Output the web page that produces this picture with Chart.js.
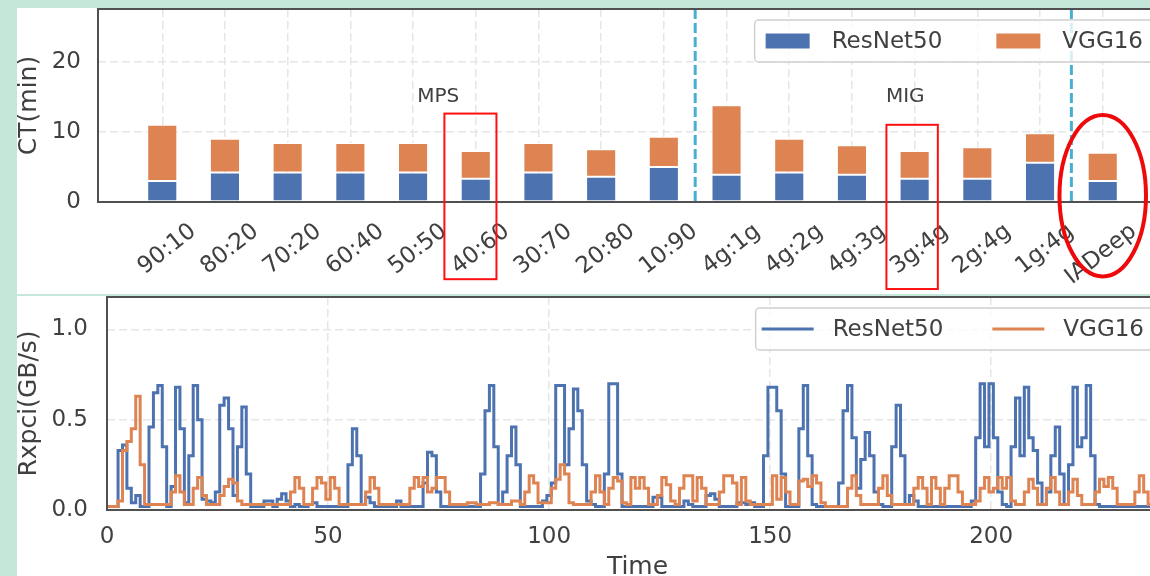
<!DOCTYPE html>
<html>
<head>
<meta charset="utf-8">
<script src="https://cdn.jsdelivr.net/npm/chart.js@4.4.0/dist/chart.umd.min.js"></script>
<style>
    html, body { margin: 0; padding: 0; width: 1150px; height: 576px; overflow: hidden; background: #c4e7da; }
    .panel { position: absolute; left: 17px; width: 1180px; background: #ffffff; }
    #topPanel { top: 8px; height: 286px; }
    #bottomPanel { top: 296px; height: 300px; }
    canvas { display: block; }
</style>
</head>
<body>
<div class="panel" id="topPanel"><canvas id="ctChart" width="1180" height="286"></canvas></div>
<div class="panel" id="bottomPanel"><canvas id="rxChart" width="1180" height="300"></canvas></div>
<script>
// completion time per co-location setting (minutes)
var categories = ['90:10', '80:20', '70:20', '60:40', '50:50', '40:60', '30:70', '20:80', '10:90',
    '4g:1g', '4g:2g', '4g:3g', '3g:4g', '2g:4g', '1g:4g', 'IADeep'];
var resnetCT = [3.0, 4.2, 4.2, 4.2, 4.2, 3.3, 4.2, 3.6, 5.0, 3.9, 4.2, 3.9, 3.3, 3.3, 5.6, 3.0];
var vggCT = [8.0, 4.8, 4.2, 4.2, 4.2, 3.95, 4.2, 3.9, 4.3, 9.9, 4.8, 4.2, 3.95, 4.5, 4.2, 4.0];

// group separators and group names on the bar chart
var splitAt = [8.5, 14.5];
var groupNotes = [{ text: 'MPS', x: 4.4, y: 15 }, { text: 'MIG', x: 11.85, y: 15 }];
var highlightBoxes = [
    { from: 4.5, to: 5.33, top: 12.6, bottom: -11 },
    { from: 11.55, to: 12.37, top: 11.0, bottom: -12.4 }
];
var highlightRing = { x: 15, y: 0.9, rx: 0.69, ry: 11.5 };

// PCIe receive throughput (GB/s), one sample per time step
var rxResNet = [
    0.02, 0.02, 0.02, 0.33, 0.36, 0.12, 0.04, 0.08, 0.02, 0.02,
    0.46, 0.65, 0.69, 0.35, 0.02, 0.13, 0.68, 0.45, 0.04, 0.30,
    0.69, 0.50, 0.06, 0.05, 0.04, 0.10, 0.58, 0.62, 0.45, 0.08,
    0.35, 0.57, 0.20, 0.02, 0.02, 0.02, 0.05, 0.05, 0.02, 0.06,
    0.09, 0.05, 0.02, 0.03, 0.02, 0.02, 0.03, 0.04, 0.02, 0.02,
    0.02, 0.02, 0.02, 0.02, 0.02, 0.25, 0.45, 0.30, 0.03, 0.07,
    0.04, 0.02, 0.02, 0.02, 0.02, 0.02, 0.05, 0.02, 0.02, 0.02,
    0.02, 0.02, 0.15, 0.32, 0.30, 0.10, 0.02, 0.02, 0.02, 0.02,
    0.02, 0.02, 0.02, 0.02, 0.02, 0.20, 0.55, 0.69, 0.35, 0.03,
    0.10, 0.30, 0.46, 0.25, 0.02, 0.02, 0.02, 0.02, 0.02, 0.05,
    0.08, 0.15, 0.69, 0.69, 0.25, 0.45, 0.67, 0.55, 0.25, 0.05,
    0.03, 0.02, 0.02, 0.20, 0.70, 0.70, 0.20, 0.02, 0.02, 0.02,
    0.02, 0.02, 0.02, 0.02, 0.07, 0.07, 0.02, 0.02, 0.02, 0.02,
    0.02, 0.05, 0.03, 0.02, 0.02, 0.02, 0.08, 0.09, 0.06, 0.02,
    0.02, 0.02, 0.02, 0.04, 0.04, 0.03, 0.04, 0.02, 0.02, 0.30,
    0.68, 0.68, 0.55, 0.20, 0.02, 0.02, 0.02, 0.45, 0.69, 0.30,
    0.03, 0.02, 0.02, 0.02, 0.02, 0.02, 0.15, 0.55, 0.69, 0.40,
    0.12, 0.28, 0.43, 0.30, 0.10, 0.03, 0.02, 0.02, 0.35, 0.58,
    0.30, 0.03, 0.08, 0.05, 0.02, 0.02, 0.02, 0.02, 0.02, 0.02,
    0.02, 0.02, 0.02, 0.02, 0.02, 0.02, 0.05, 0.40, 0.70, 0.35,
    0.70, 0.40, 0.10, 0.03, 0.02, 0.35, 0.62, 0.30, 0.68, 0.40,
    0.33, 0.15, 0.03, 0.10, 0.30, 0.46, 0.20, 0.03, 0.25, 0.68,
    0.35, 0.40, 0.69, 0.30, 0.03, 0.02, 0.02, 0.02, 0.02, 0.02,
    0.02, 0.02, 0.02, 0.02, 0.02, 0.02, 0.02, 0.02, 0.02, 0.02,
    0.02
];
var rxVGG = [
    0.02, 0.02, 0.02, 0.05, 0.33, 0.38, 0.45, 0.63, 0.25, 0.03,
    0.03, 0.03, 0.03, 0.03, 0.03, 0.10, 0.19, 0.10, 0.03, 0.03,
    0.12, 0.18, 0.08, 0.03, 0.03, 0.03, 0.08, 0.13, 0.17, 0.15,
    0.05, 0.03, 0.03, 0.03, 0.03, 0.03, 0.03, 0.03, 0.03, 0.03,
    0.03, 0.03, 0.10, 0.18, 0.12, 0.03, 0.03, 0.12, 0.18, 0.15,
    0.06, 0.18, 0.12, 0.03, 0.03, 0.03, 0.03, 0.03, 0.03, 0.10,
    0.18, 0.12, 0.03, 0.03, 0.03, 0.03, 0.03, 0.03, 0.03, 0.12,
    0.18, 0.13, 0.18, 0.10, 0.12, 0.18, 0.18, 0.10, 0.03, 0.03,
    0.03, 0.03, 0.04, 0.04, 0.03, 0.03, 0.03, 0.04, 0.04, 0.03,
    0.03, 0.03, 0.05, 0.05, 0.03, 0.10, 0.19, 0.15, 0.04, 0.04,
    0.04, 0.12, 0.17, 0.25, 0.20, 0.04, 0.03, 0.03, 0.03, 0.03,
    0.10, 0.19, 0.10, 0.03, 0.12, 0.18, 0.16, 0.04, 0.03, 0.18,
    0.12, 0.18, 0.12, 0.03, 0.03, 0.08, 0.18, 0.14, 0.05, 0.03,
    0.12, 0.19, 0.19, 0.05, 0.18, 0.12, 0.03, 0.03, 0.03, 0.10,
    0.19, 0.19, 0.15, 0.03, 0.18, 0.05, 0.03, 0.03, 0.03, 0.03,
    0.03, 0.19, 0.06, 0.18, 0.10, 0.03, 0.03, 0.16, 0.17, 0.13,
    0.19, 0.15, 0.04, 0.02, 0.02, 0.02, 0.02, 0.02, 0.12, 0.19,
    0.08, 0.03, 0.03, 0.03, 0.03, 0.12, 0.19, 0.08, 0.03, 0.03,
    0.03, 0.03, 0.03, 0.12, 0.18, 0.12, 0.03, 0.18, 0.12, 0.03,
    0.12, 0.19, 0.19, 0.10, 0.03, 0.03, 0.03, 0.05, 0.12, 0.18,
    0.10, 0.12, 0.18, 0.12, 0.18, 0.05, 0.03, 0.03, 0.10, 0.17,
    0.12, 0.03, 0.03, 0.12, 0.18, 0.10, 0.03, 0.03, 0.10, 0.17,
    0.08, 0.03, 0.03, 0.03, 0.10, 0.17, 0.13, 0.18, 0.12, 0.03,
    0.03, 0.03, 0.03, 0.10, 0.19, 0.10, 0.03, 0.15, 0.18, 0.05,
    0.03
];

var BLUE = '#4C72B0';
var ORANGE = '#DD8452';
var TEXT = '#404040';
var GRID = '#e6e6e6';

Chart.defaults.font.family = '"DejaVu Sans", sans-serif';
Chart.defaults.color = TEXT;

function barPoints(values) {
    return values.map(function (v, i) { return { x: i, y: v }; });
}

function timePoints(values) {
    return values.map(function (v, t) { return { x: t, y: v }; });
}

// fixed axis width, and no extra room reserved above/below the plot for tick labels
function fixWidth(width) {
    return function (scale) {
        scale.width = width;
        scale.paddingTop = 0;
        scale.paddingBottom = 0;
    };
}

function roundedBox(ctx, x, y, w, h, r) {
    ctx.beginPath();
    ctx.moveTo(x + r, y);
    ctx.arcTo(x + w, y, x + w, y + h, r);
    ctx.arcTo(x + w, y + h, x, y + h, r);
    ctx.arcTo(x, y + h, x, y, r);
    ctx.arcTo(x, y, x + w, y, r);
    ctx.closePath();
}

function drawFrame(chart) {
    var a = chart.chartArea;
    var ctx = chart.ctx;
    ctx.save();
    ctx.strokeStyle = '#505050';
    ctx.lineWidth = 2;
    ctx.strokeRect(a.left, a.top, a.right - a.left, a.bottom - a.top);
    ctx.restore();
}

// legend box in the upper right corner of the plot
function drawLegend(chart, kind) {
    var ctx = chart.ctx;
    var a = chart.chartArea;
    var sets = chart.data.datasets;
    ctx.save();
    ctx.font = '23px "DejaVu Sans"';
    var widths = sets.map(function (d) { return ctx.measureText(d.label).width; });
    var total = 6;
    widths.forEach(function (w, i) { total += 71 + w + (i < widths.length - 1 ? 49 : 11); });
    var right = a.right - 13;
    var left = right - total;
    var top = a.top + 11;
    var h = 42;
    roundedBox(ctx, left, top, total, h, 4);
    ctx.fillStyle = 'rgba(255,255,255,0.8)';
    ctx.fill();
    ctx.strokeStyle = '#d0d0d0';
    ctx.lineWidth = 1.5;
    ctx.stroke();

    var cy = top + h / 2;
    var s = left + 6;
    sets.forEach(function (d, i) {
        var color = kind === 'bar' ? d.backgroundColor : d.borderColor;
        if (kind === 'bar') {
            ctx.fillStyle = color;
            ctx.fillRect(s + 5, cy - 7.5, 44, 15);
        } else {
            ctx.strokeStyle = color;
            ctx.lineWidth = 3;
            ctx.beginPath();
            ctx.moveTo(s, cy);
            ctx.lineTo(s + 52, cy);
            ctx.stroke();
        }
        ctx.fillStyle = TEXT;
        ctx.textAlign = 'left';
        ctx.textBaseline = 'middle';
        ctx.fillText(d.label, s + 71, cy + 1);
        s += 71 + widths[i] + 49;
    });
    ctx.restore();
}

var ctDecor = {
    id: 'ctDecor',
    afterDatasetsDraw: function (chart) {
        var ctx = chart.ctx;
        var a = chart.chartArea;
        var xs = chart.scales.x;
        var ys = chart.scales.y;
        ctx.save();
        // separators between MPS, MIG and IADeep
        ctx.strokeStyle = '#4aaed0';
        ctx.lineWidth = 3;
        ctx.setLineDash([10, 4]);
        splitAt.forEach(function (v) {
            var px = xs.getPixelForValue(v);
            ctx.beginPath();
            ctx.moveTo(px, a.top);
            ctx.lineTo(px, a.bottom);
            ctx.stroke();
        });
        ctx.setLineDash([]);
        ctx.fillStyle = TEXT;
        ctx.font = '20px "DejaVu Sans"';
        ctx.textAlign = 'center';
        ctx.textBaseline = 'middle';
        groupNotes.forEach(function (n) {
            ctx.fillText(n.text, xs.getPixelForValue(n.x), ys.getPixelForValue(n.y));
        });
        ctx.restore();
        drawFrame(chart);
    },
    afterDraw: function (chart) {
        var ctx = chart.ctx;
        var xs = chart.scales.x;
        var ys = chart.scales.y;
        drawLegend(chart, 'bar');
        ctx.save();
        ctx.strokeStyle = '#ff1010';
        ctx.lineWidth = 2;
        highlightBoxes.forEach(function (b) {
            var x1 = xs.getPixelForValue(b.from);
            var x2 = xs.getPixelForValue(b.to);
            var y1 = ys.getPixelForValue(b.top);
            var y2 = ys.getPixelForValue(b.bottom);
            ctx.strokeRect(x1, y1, x2 - x1, y2 - y1);
        });
        var cx = xs.getPixelForValue(highlightRing.x);
        var cy = ys.getPixelForValue(highlightRing.y);
        var rx = xs.getPixelForValue(highlightRing.x + highlightRing.rx) - cx;
        var ry = cy - ys.getPixelForValue(highlightRing.y + highlightRing.ry);
        ctx.lineWidth = 4;
        ctx.strokeStyle = '#ee0a0a';
        ctx.beginPath();
        ctx.ellipse(cx, cy, rx, ry, 0, 0, Math.PI * 2);
        ctx.stroke();
        ctx.restore();
    }
};

var rxDecor = {
    id: 'rxDecor',
    afterDatasetsDraw: function (chart) {
        drawFrame(chart);
    },
    afterDraw: function (chart) {
        drawLegend(chart, 'line');
    }
};

new Chart(document.getElementById('ctChart'), {
    type: 'bar',
    data: {
        datasets: [{
            label: 'ResNet50',
            data: barPoints(resnetCT),
            backgroundColor: BLUE,
            borderColor: '#ffffff',
            borderWidth: 1,
            borderSkipped: false,
            barPercentage: 0.48,
            categoryPercentage: 1
        }, {
            label: 'VGG16',
            data: barPoints(vggCT),
            backgroundColor: ORANGE,
            borderColor: '#ffffff',
            borderWidth: 1,
            borderSkipped: false,
            barPercentage: 0.48,
            categoryPercentage: 1
        }]
    },
    options: {
        responsive: false,
        animation: false,
        layout: { padding: { top: 1, right: 30, bottom: 0, left: 0 } },
        plugins: { legend: { display: false }, tooltip: { enabled: false } },
        scales: {
            x: {
                type: 'linear',
                stacked: true,
                offset: false,
                min: -1.025,
                max: 16.025,
                afterBuildTicks: function (scale) {
                    scale.ticks = categories.map(function (c, i) { return { value: i }; });
                },
                afterFit: function (scale) { scale.height = 92; },
                grid: { color: GRID, lineWidth: 1.5, drawTicks: false, offset: false },
                border: { display: false, dash: [8, 4] },
                ticks: {
                    autoSkip: false,
                    minRotation: 38,
                    maxRotation: 38,
                    labelOffset: 31,
                    padding: 16,
                    font: { size: 23 },
                    callback: function (v) { return categories[v]; }
                }
            },
            y: {
                stacked: true,
                min: 0,
                max: 27.5,
                afterFit: fixWidth(81),
                grid: { color: GRID, lineWidth: 1.5, drawTicks: false },
                border: { display: false, dash: [8, 4] },
                ticks: { stepSize: 10, includeBounds: false, padding: 17, font: { size: 23 } },
                title: { display: true, text: 'CT(min)', font: { size: 25, lineHeight: 1 }, padding: { top: 0, bottom: 0 } }
            }
        }
    },
    plugins: [ctDecor]
});

new Chart(document.getElementById('rxChart'), {
    type: 'line',
    data: {
        datasets: [{
            label: 'ResNet50',
            data: timePoints(rxResNet),
            borderColor: BLUE,
            borderWidth: 3,
            pointRadius: 0,
            stepped: 'middle',
            fill: false,
            order: 1
        }, {
            label: 'VGG16',
            data: timePoints(rxVGG),
            borderColor: ORANGE,
            borderWidth: 3,
            pointRadius: 0,
            stepped: 'middle',
            fill: false,
            order: 0
        }]
    },
    options: {
        responsive: false,
        animation: false,
        layout: { padding: { top: 1, right: 29, bottom: 0, left: 0 } },
        plugins: { legend: { display: false }, tooltip: { enabled: false } },
        scales: {
            x: {
                type: 'linear',
                min: 0,
                max: 240,
                afterFit: function (scale) { scale.height = 86; },
                grid: { color: GRID, lineWidth: 1.5, drawTicks: false },
                border: { display: false, dash: [8, 4] },
                ticks: { stepSize: 50, includeBounds: false, maxRotation: 0, padding: 13, font: { size: 23 } },
                title: { display: true, text: 'Time', font: { size: 25, lineHeight: 1 }, padding: { top: 0, bottom: 16 } }
            },
            y: {
                min: 0,
                max: 1.18,
                afterFit: fixWidth(90),
                grid: { color: GRID, lineWidth: 1.5, drawTicks: false },
                border: { display: false, dash: [8, 4] },
                ticks: {
                    stepSize: 0.5,
                    includeBounds: false,
                    padding: 19,
                    font: { size: 23 },
                    callback: function (v) { return v.toFixed(1); }
                },
                title: { display: true, text: 'Rxpci(GB/s)', font: { size: 25, lineHeight: 1 }, padding: { top: 0, bottom: 0 } }
            }
        }
    },
    plugins: [rxDecor]
});
</script>
</body>
</html>
